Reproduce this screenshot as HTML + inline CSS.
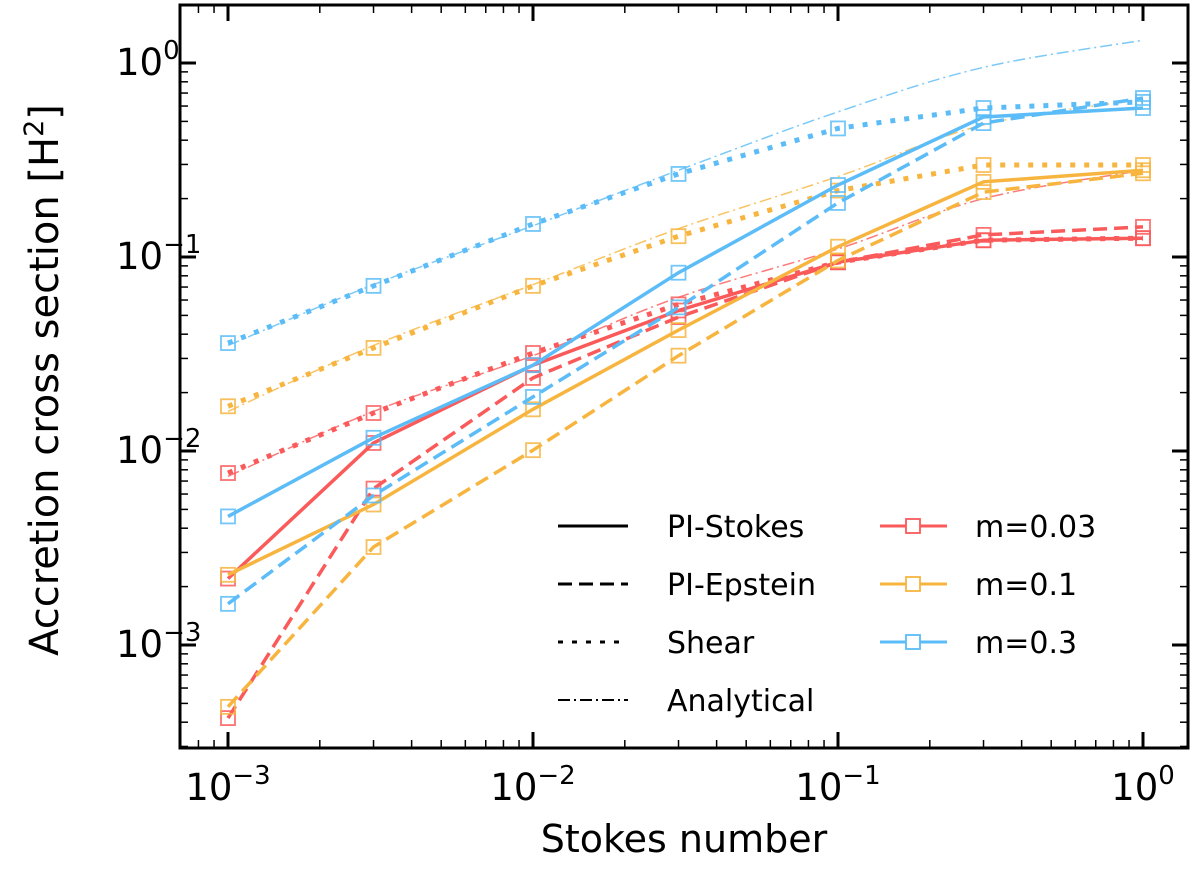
<!DOCTYPE html>
<html><head><meta charset="utf-8"><style>
body{margin:0;background:#fff;}
svg text{font-family:"DejaVu Sans","Liberation Sans",sans-serif;fill:#000;}
</style></head><body>
<svg id="chart" width="1200" height="865" viewBox="0 0 1200 865" xmlns="http://www.w3.org/2000/svg"></svg>
<script>
const stokes=[0.001,0.003,0.01,0.03,0.1,0.3,1];
const masses=["m=0.03","m=0.1","m=0.3"];
const colors=["#fa5a5a","#f7b53f","#5bbcf7"];
const piStokes=[[0.0022,0.011,0.0277,0.053,0.094,0.122,0.125],[0.0023,0.0053,0.0164,0.042,0.113,0.244,0.28],[0.0046,0.0117,0.0277,0.083,0.235,0.527,0.586]];
const piEpstein=[[0.00042,0.0064,0.0238,0.049,0.094,0.13,0.143],[0.00048,0.0032,0.0101,0.031,0.096,0.216,0.27],[0.00163,0.0059,0.019,0.055,0.19,0.49,0.66]];
const shear=[[0.0077,0.0157,0.032,0.057,0.094,0.122,0.125],[0.017,0.034,0.071,0.128,0.22,0.298,0.298],[0.036,0.071,0.148,0.268,0.46,0.586,0.63]];
const analytical=[[0.0074,0.016,0.031,0.062,0.11,0.2,0.28],[0.016,0.035,0.072,0.14,0.26,0.48,0.65],[0.035,0.072,0.145,0.28,0.56,0.95,1.31]];
const xTicks=[-3,-2,-1,0];
const yTicks=[-3,-2,-1,0];

const L=180,R=1188,T=5,B=748;
const X=v=>228+305*(Math.log10(v)+3);
const Y=v=>63-194*Math.log10(v);
const svg=document.getElementById('chart');
const NS="http://www.w3.org/2000/svg";
function mk(tag,attrs,parent){const e=document.createElementNS(NS,tag);for(const k in attrs)e.setAttribute(k,attrs[k]);(parent||svg).appendChild(e);return e;}

const tg=mk('g',{});


for(let d=-4;d<=0;d++){for(let k=1;k<10;k++){const lv=d+Math.log10(k);
 const x=228+305*(lv+3);
 if(x>L&&x<R){const len=k==1?16:8;mk('line',{x1:x,y1:B,x2:x,y2:B-len,stroke:'#000','stroke-width':k==1?3:1.5},tg);mk('line',{x1:x,y1:T,x2:x,y2:T+len,stroke:'#000','stroke-width':k==1?3:1.5},tg);}
 const y=63-194*lv;
 if(y>T&&y<B){const len=k==1?16:8;mk('line',{x1:L,y1:y,x2:L+len,y2:y,stroke:'#000','stroke-width':k==1?3:1.5},tg);mk('line',{x1:R,y1:y,x2:R-len,y2:y,stroke:'#000','stroke-width':k==1?3:1.5},tg);}
}}
xTicks.forEach(t=>{const g=mk('text',{x:228+305*(t+3),y:800,'font-size':37,'text-anchor':'middle'});
 
 g.innerHTML='10<tspan dy="-16" font-size="26">'+(t<0?'−'+(-t):t)+'</tspan>';});
yTicks.forEach(t=>{const g=mk('text',{x:116,y:63-194*t+12,'font-size':37,'text-anchor':'start'});
 
 g.innerHTML='10<tspan dy="-16" font-size="26">'+(t<0?'−'+(-t):t)+'</tspan>';});

function path(vals){return vals.map((v,i)=>(i?'L':'M')+X(stokes[i]).toFixed(1)+','+Y(v).toFixed(1)).join(' ');}
function smooth(vals){const pts=vals.map((v,i)=>[X(stokes[i]),Y(v)]);
 let d='M'+pts[0][0]+','+pts[0][1];
 for(let i=0;i<pts.length-1;i++){const p0=pts[Math.max(0,i-1)],p1=pts[i],p2=pts[i+1],p3=pts[Math.min(pts.length-1,i+2)];
  d+=' C'+(p1[0]+(p2[0]-p0[0])/6)+','+(p1[1]+(p2[1]-p0[1])/6)+' '+(p2[0]-(p3[0]-p1[0])/6)+','+(p2[1]-(p3[1]-p1[1])/6)+' '+p2[0]+','+p2[1];}
 return d;}
function marks(vals,c,g){vals.forEach((v,i)=>{const r=mk('rect',{x:X(stokes[i])-7,y:Y(v)-7,width:14,height:14,fill:'none',stroke:c,'stroke-width':1.8,opacity:0.85},g);
 });}

const plot=mk('g',{});


for(let s=0;s<3;s++){const c=colors[s];
 const a=mk('path',{d:smooth(analytical[s]),fill:'none',stroke:c,'stroke-width':1.5,'stroke-dasharray':'12,4,2,4',opacity:0.8},plot);
 
 const sh=mk('path',{d:path(shear[s]),fill:'none',stroke:c,'stroke-width':5,'stroke-dasharray':'5,9'},plot);
 
 const ep=mk('path',{d:path(piEpstein[s]),fill:'none',stroke:c,'stroke-width':3.5,'stroke-dasharray':'14,7'},plot);
 
 const st=mk('path',{d:path(piStokes[s]),fill:'none',stroke:c,'stroke-width':3.5},plot);
 
 marks(shear[s],c,plot);marks(piEpstein[s],c,plot);marks(piStokes[s],c,plot);}

const frame=mk('rect',{x:L,y:T,width:R-L,height:B-T,fill:'none',stroke:'#000','stroke-width':3});


const lg=mk('g',{});


const styles=[["PI-Stokes",''],["PI-Epstein",'14,7'],["Shear",'5,9'],["Analytical",'12,4,2,4']];
styles.forEach((s,i)=>{const y=526+i*58;
 mk('line',{x1:558,y1:y,x2:628,y2:y,stroke:'#000','stroke-width':i==3?2:3,'stroke-dasharray':s[1]},lg);
 const t=mk('text',{x:667,y:y+11,'font-size':30},lg);t.textContent=s[0];
 });
masses.forEach((m,i)=>{const y=526+i*58;
 mk('line',{x1:880,y1:y,x2:947,y2:y,stroke:colors[i],'stroke-width':3},lg);
 mk('rect',{x:906,y:y-7,width:14,height:14,fill:'#fff',stroke:colors[i],'stroke-width':1.8},lg);
 const t=mk('text',{x:975,y:y+11,'font-size':30},lg);t.textContent=m;
 });

const xl=mk('text',{x:684,y:852,'font-size':38,'text-anchor':'middle'});xl.textContent='Stokes number';

const yl=mk('text',{x:0,y:0,'font-size':40,'text-anchor':'middle',transform:'translate(58,380) rotate(-90)'});
yl.innerHTML='Accretion cross section [H<tspan dy="-15" font-size="27">2</tspan><tspan dy="15">]</tspan>';

</script>
</body></html>
